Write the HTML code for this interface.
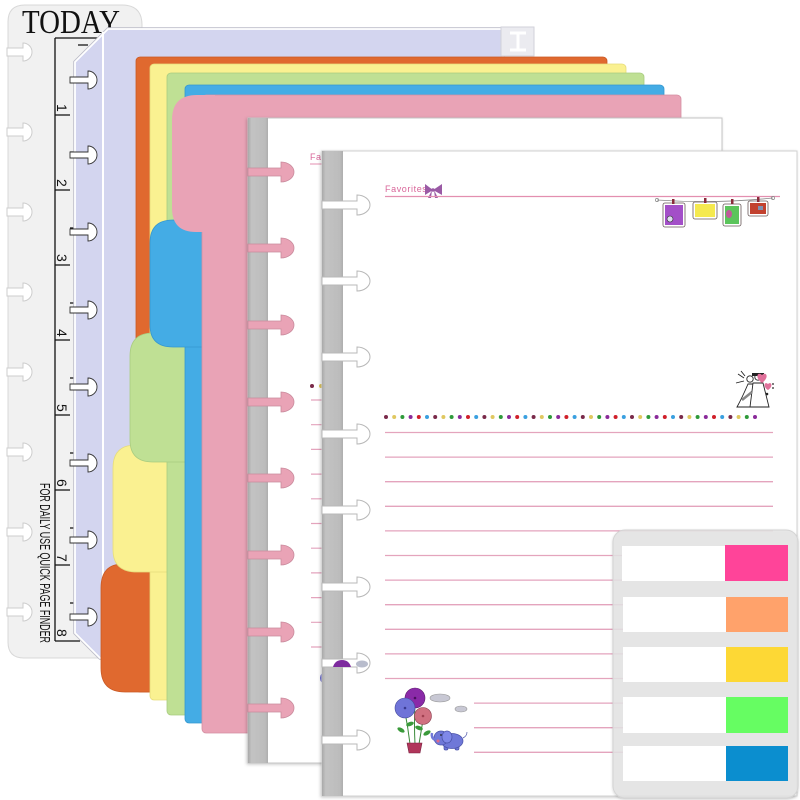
<!DOCTYPE html>
<html><head><meta charset="utf-8">
<style>html,body{margin:0;padding:0;background:#fff;width:800px;height:800px;overflow:hidden}</style>
</head>
<body>
<svg width="800" height="800" viewBox="0 0 800 800" xmlns="http://www.w3.org/2000/svg">
<defs>
<linearGradient id="strip" x1="0" x2="1" y1="0" y2="0">
<stop offset="0" stop-color="#a9a9a9"/><stop offset="0.18" stop-color="#c3c3c3"/><stop offset="0.85" stop-color="#bcbcbc"/><stop offset="1" stop-color="#aeaeae"/>
</linearGradient>
<filter id="sh" x="-5%" y="-5%" width="110%" height="110%"><feDropShadow dx="-1" dy="1" stdDeviation="1.5" flood-color="#000" flood-opacity="0.22"/></filter>
<filter id="sh2" x="-5%" y="-5%" width="110%" height="110%"><feDropShadow dx="0" dy="1" stdDeviation="1.2" flood-color="#000" flood-opacity="0.18"/></filter>
</defs>
<rect width="800" height="800" fill="#fff"/>

<!-- ruler card -->
<path d="M8,22 Q8,5 25,5 L122,5 Q142,5 142,25 L142,658 L24,658 Q8,658 8,642 Z" fill="#f1f1f1" stroke="#d8d8d8" stroke-width="1"/>
<g fill="#fff" stroke="#cdcdcd" stroke-width="1">
<path d="M7,48 H23 V43 A9,9 0 0 1 23,61 V56 H7 Z"/>
<path d="M7,128 H23 V123 A9,9 0 0 1 23,141 V136 H7 Z"/>
<path d="M7,208 H23 V203 A9,9 0 0 1 23,221 V216 H7 Z"/>
<path d="M7,288 H23 V283 A9,9 0 0 1 23,301 V296 H7 Z"/>
<path d="M7,368 H23 V363 A9,9 0 0 1 23,381 V376 H7 Z"/>
<path d="M7,448 H23 V443 A9,9 0 0 1 23,461 V456 H7 Z"/>
<path d="M7,528 H23 V523 A9,9 0 0 1 23,541 V536 H7 Z"/>
<path d="M7,608 H23 V603 A9,9 0 0 1 23,621 V616 H7 Z"/>
</g>
<text x="22" y="33" font-family="Liberation Serif, serif" font-size="34" textLength="98" lengthAdjust="spacingAndGlyphs" fill="#111">TODAY</text>
<g stroke="#111" stroke-width="1.3" fill="none">
<path d="M55,38 H100 M55,38 V641 M55,641 H80"/>
<path d="M55,115 H70 M55,190 H70 M55,265 H70 M55,340 H70 M55,415 H70 M55,490 H70 M55,565 H70"/>
<path d="M70,152 H74 M70,228 H74 M70,303 H74 M70,378 H74 M70,453 H74 M70,528 H74 M70,603 H74 M78,45 H88"/>
</g>
<g font-family="Liberation Sans, sans-serif" font-size="14" fill="#111">
<text transform="translate(57,104) rotate(90)">1</text>
<text transform="translate(57,179) rotate(90)">2</text>
<text transform="translate(57,254) rotate(90)">3</text>
<text transform="translate(57,329) rotate(90)">4</text>
<text transform="translate(57,404) rotate(90)">5</text>
<text transform="translate(57,479) rotate(90)">6</text>
<text transform="translate(57,554) rotate(90)">7</text>
<text transform="translate(57,629) rotate(90)">8</text>
</g>
<text transform="translate(40,483) rotate(90)" font-family="Liberation Sans, sans-serif" font-size="15" textLength="160" lengthAdjust="spacingAndGlyphs" fill="#111">FOR DAILY USE QUICK PAGE FINDER</text>

<!-- lavender cover -->
<path d="M75,62 L108,29 L503,29 L503,665 L100,658 L75,633 Z" fill="none" stroke="#bcbcc8" stroke-width="3.5"/>
<path d="M75,62 L108,29 L503,29 L503,665 L100,658 L75,633 Z" fill="#d3d5ef" stroke="#fff" stroke-width="1.8"/>
<path d="M103,32 V655" stroke="#fff" stroke-width="2"/>
<rect x="501" y="27" width="33" height="29" fill="#ebebf0" stroke="#d2d2da" stroke-width="1"/>
<path d="M510,33 H526 M518,33 V50 M510,50 H526" stroke="#fff" stroke-width="3"/>
<g fill="#fff" stroke="#333" stroke-width="0.9">
<path d="M70,77 H88 V71 A9,9 0 0 1 88,89 V83 H70 Z"/>
<path d="M70,152 H88 V146 A9,9 0 0 1 88,164 V158 H70 Z"/>
<path d="M70,229 H88 V223 A9,9 0 0 1 88,241 V235 H70 Z"/>
<path d="M70,307 H88 V301 A9,9 0 0 1 88,319 V313 H70 Z"/>
<path d="M70,384 H88 V378 A9,9 0 0 1 88,396 V390 H70 Z"/>
<path d="M70,460 H88 V454 A9,9 0 0 1 88,472 V466 H70 Z"/>
<path d="M70,537 H88 V531 A9,9 0 0 1 88,549 V543 H70 Z"/>
<path d="M70,614 H88 V608 A9,9 0 0 1 88,626 V620 H70 Z"/>
</g>

<!-- dividers -->
<g stroke-width="0.8">
<rect x="136" y="57" width="471" height="635" rx="4" fill="#e0692f" stroke="#c95a25"/>
<path d="M150,568 L123,564 Q101,564 101,588 L101,668 Q101,692 125,692 L150,692 Z" fill="#e0692f" stroke="#c95a25"/>

<rect x="150" y="64" width="476" height="636" rx="4" fill="#faf191" stroke="#e6dc7c"/>
<path d="M170,447 L136,445 Q113,445 113,468 L113,550 Q113,572 137,572 L170,572 Z" fill="#faf191" stroke="#e6dc7c"/>

<rect x="167" y="73" width="477" height="642" rx="4" fill="#bfe094" stroke="#a9cc80"/>
<path d="M190,335 L153,333 Q130,333 130,356 L130,440 Q130,462 153,462 L190,462 Z" fill="#bfe094" stroke="#a9cc80"/>

<rect x="185" y="85" width="479" height="638" rx="4" fill="#44ace5" stroke="#3598cf"/>
<path d="M205,222 L173,220 Q150,220 150,243 L150,325 Q150,347 173,347 L205,347 Z" fill="#44ace5" stroke="#3598cf"/>

<rect x="202" y="95" width="479" height="638" rx="4" fill="#e9a3b6" stroke="#d48fa2"/>
<path d="M215,95 L197,95 Q172,95 172,120 L172,208 Q172,232 196,232 L215,232 Z" fill="#e9a3b6"/>
</g>

<!-- sheet 1 -->
<rect x="248" y="118" width="474" height="645" fill="#fff" stroke="#c6c6c6" stroke-width="1" filter="url(#sh)"/>
<rect x="248" y="118" width="20" height="645" fill="url(#strip)"/>
<g fill="#e9a3b6" stroke="#c98a9c" stroke-width="0.8">
<path d="M248,168 H281 V162 A13,10 0 0 1 281,182 V176 H248 Z"/>
<path d="M248,244 H281 V238 A13,10 0 0 1 281,258 V252 H248 Z"/>
<path d="M248,321 H281 V315 A13,10 0 0 1 281,335 V329 H248 Z"/>
<path d="M248,398 H281 V392 A13,10 0 0 1 281,412 V406 H248 Z"/>
<path d="M248,474 H281 V468 A13,10 0 0 1 281,488 V482 H248 Z"/>
<path d="M248,551 H281 V545 A13,10 0 0 1 281,565 V559 H248 Z"/>
<path d="M248,628 H281 V622 A13,10 0 0 1 281,642 V636 H248 Z"/>
<path d="M248,704 H281 V698 A13,10 0 0 1 281,718 V712 H248 Z"/>
</g>
<text x="310" y="160" font-family="Liberation Sans, sans-serif" font-size="9" fill="#d9669a" letter-spacing="0.5">Favorites</text>
<path d="M310,164 H330" stroke="#e38fb0" stroke-width="1"/>
<circle cx="312" cy="386" r="2" fill="#7a2a4a"/><circle cx="321" cy="386" r="2" fill="#e0c860"/>
<g stroke="#e4a4bd" stroke-width="1.2">
<path d="M311,400 H330 M311,424.7 H330 M311,449.4 H330 M311,474.1 H330 M311,498.8 H330 M311,523.5 H330 M311,548.2 H330 M311,572.9 H330 M311,597.6 H330 M311,622.3 H330 M311,647 H330"/>
</g>
<ellipse cx="325" cy="678" rx="5" ry="6" fill="#6a6ad0"/>

<!-- sheet 2 -->
<rect x="322" y="151" width="475" height="645" fill="#fff" stroke="#d2d2d2" stroke-width="1" filter="url(#sh)"/>
<rect x="322" y="151" width="21" height="645" fill="url(#strip)"/>
<g fill="#fff" stroke="#b8b8b8" stroke-width="1">
<path d="M322,201 H357 V195 A13,10 0 0 1 357,215 V209 H322 Z"/>
<path d="M322,277 H357 V271 A13,10 0 0 1 357,291 V285 H322 Z"/>
<path d="M322,353 H357 V347 A13,10 0 0 1 357,367 V361 H322 Z"/>
<path d="M322,430 H357 V424 A13,10 0 0 1 357,444 V438 H322 Z"/>
<path d="M322,506 H357 V500 A13,10 0 0 1 357,520 V514 H322 Z"/>
<path d="M322,583 H357 V577 A13,10 0 0 1 357,597 V591 H322 Z"/>
<path d="M322,659 H357 V653 A13,10 0 0 1 357,673 V667 H322 Z"/>
<path d="M322,736 H357 V730 A13,10 0 0 1 357,750 V744 H322 Z"/>
</g>
<ellipse cx="362" cy="664" rx="6" ry="3.5" fill="#b8bccc"/>
<path d="M333,667 Q335,660 342,660 Q349,660 351,667 Z" fill="#7d2a9e"/>

<!-- sheet 2 content -->
<text x="385" y="192" font-family="Liberation Sans, sans-serif" font-size="9" fill="#d9669a" letter-spacing="0.6">Favorites</text>
<g fill="#9a5aa5"><path d="M433,190 L425,184 L425,195 Z"/><path d="M433,190 L442,184 L442,195 Z"/><path d="M432,190 L428,198 L431,198 Z"/><path d="M434,190 L438,198 L435,198 Z"/><circle cx="433" cy="190" r="1.8"/></g>
<path d="M385,196.5 H780" stroke="#e38fb0" stroke-width="1.3"/>

<!-- hanging frames -->
<path d="M657,200 Q715,204 773,198" stroke="#888" stroke-width="0.8" fill="none"/>
<circle cx="657" cy="200" r="1.6" fill="none" stroke="#888" stroke-width="0.7"/>
<circle cx="773" cy="198" r="1.6" fill="none" stroke="#888" stroke-width="0.7"/>
<g stroke="#6a5a5a" stroke-width="0.8">
<rect x="663" y="203" width="22" height="24" rx="2" fill="#fff"/><rect x="665" y="205" width="18" height="20" fill="#a34fc8" stroke="none"/>
<rect x="693" y="202" width="24" height="17" rx="2" fill="#fff"/><rect x="695" y="204" width="20" height="13" fill="#f5e94f" stroke="none"/>
<rect x="723" y="204" width="18" height="22" rx="2" fill="#fff"/><rect x="725" y="206" width="14" height="18" fill="#5bc45b" stroke="none"/>
<rect x="748" y="201" width="20" height="15" rx="2" fill="#fff"/><rect x="750" y="203" width="16" height="11" fill="#c2412f" stroke="none"/>
</g>
<g fill="#8a2a3a"><rect x="672" y="199" width="2.5" height="5"/><rect x="704" y="198" width="2.5" height="5"/><rect x="731" y="199" width="2.5" height="5"/><rect x="757" y="197" width="2.5" height="5"/></g>
<circle cx="670" cy="219" r="3" fill="#dde" stroke="#333" stroke-width="0.6"/>
<ellipse cx="729" cy="214" rx="3" ry="4" fill="#c05a9a"/>
<rect x="758" y="206" width="5" height="4" fill="#8090b0"/>

<!-- couple doodle -->
<g stroke="#222" stroke-width="0.9" fill="#fff">
<path d="M748,384 Q742,398 737,407 L760,407 Q756,396 753,384 Z"/>
<path d="M753,383 L750,407 L769,407 L763,383 Z"/>
<circle cx="750" cy="379" r="3.2"/>
<circle cx="758" cy="377" r="3.2"/>
<path d="M744,378 L738,374 M744,381 L736,383 M745,376 L741,371" fill="none"/>
</g>
<rect x="752" y="373" width="12" height="3" fill="#222"/>
<path d="M742,400 L752,392" stroke="#888" stroke-width="2.5"/>
<path d="M762,383 C754,377 758,371 762,375 C766,371 770,377 762,383 Z" fill="#e0709a"/>
<path d="M768,390 C762,386 765,381 768,384 C771,381 774,386 768,390 Z" fill="#e0709a"/>
<circle cx="773" cy="384" r="0.9" fill="#222"/><circle cx="773" cy="388" r="0.9" fill="#222"/><circle cx="767" cy="394" r="1.3" fill="#222"/>

<!-- dots row -->
<g>
<circle cx="386" cy="417" r="2" fill="#7a2a4a"/><circle cx="394.2" cy="417" r="2" fill="#e0c860"/><circle cx="402.4" cy="417" r="2" fill="#2e9a3a"/><circle cx="410.6" cy="417" r="2" fill="#8a2a9a"/><circle cx="418.8" cy="417" r="2" fill="#d0202a"/><circle cx="427" cy="417" r="2" fill="#3aa0e0"/>
<circle cx="435.2" cy="417" r="2" fill="#7a2a4a"/><circle cx="443.4" cy="417" r="2" fill="#e0c860"/><circle cx="451.6" cy="417" r="2" fill="#2e9a3a"/><circle cx="459.8" cy="417" r="2" fill="#8a2a9a"/><circle cx="468" cy="417" r="2" fill="#d0202a"/><circle cx="476.2" cy="417" r="2" fill="#3aa0e0"/>
<circle cx="484.4" cy="417" r="2" fill="#7a2a4a"/><circle cx="492.6" cy="417" r="2" fill="#e0c860"/><circle cx="500.8" cy="417" r="2" fill="#2e9a3a"/><circle cx="509" cy="417" r="2" fill="#8a2a9a"/><circle cx="517.2" cy="417" r="2" fill="#d0202a"/><circle cx="525.4" cy="417" r="2" fill="#3aa0e0"/>
<circle cx="533.6" cy="417" r="2" fill="#7a2a4a"/><circle cx="541.8" cy="417" r="2" fill="#e0c860"/><circle cx="550" cy="417" r="2" fill="#2e9a3a"/><circle cx="558.2" cy="417" r="2" fill="#8a2a9a"/><circle cx="566.4" cy="417" r="2" fill="#d0202a"/><circle cx="574.6" cy="417" r="2" fill="#3aa0e0"/>
<circle cx="582.8" cy="417" r="2" fill="#7a2a4a"/><circle cx="591" cy="417" r="2" fill="#e0c860"/><circle cx="599.2" cy="417" r="2" fill="#2e9a3a"/><circle cx="607.4" cy="417" r="2" fill="#8a2a9a"/><circle cx="615.6" cy="417" r="2" fill="#d0202a"/><circle cx="623.8" cy="417" r="2" fill="#3aa0e0"/>
<circle cx="632" cy="417" r="2" fill="#7a2a4a"/><circle cx="640.2" cy="417" r="2" fill="#e0c860"/><circle cx="648.4" cy="417" r="2" fill="#2e9a3a"/><circle cx="656.6" cy="417" r="2" fill="#8a2a9a"/><circle cx="664.8" cy="417" r="2" fill="#d0202a"/><circle cx="673" cy="417" r="2" fill="#3aa0e0"/>
<circle cx="681.2" cy="417" r="2" fill="#7a2a4a"/><circle cx="689.4" cy="417" r="2" fill="#e0c860"/><circle cx="697.6" cy="417" r="2" fill="#2e9a3a"/><circle cx="705.8" cy="417" r="2" fill="#8a2a9a"/><circle cx="714" cy="417" r="2" fill="#d0202a"/><circle cx="722.2" cy="417" r="2" fill="#3aa0e0"/>
<circle cx="730.4" cy="417" r="2" fill="#7a2a4a"/><circle cx="738.6" cy="417" r="2" fill="#e0c860"/><circle cx="746.8" cy="417" r="2" fill="#2e9a3a"/><circle cx="755" cy="417" r="2" fill="#8a2a9a"/>
</g>

<!-- ruled lines -->
<g stroke="#e4a4bd" stroke-width="1.3">
<path d="M385,432.5 H773 M385,457.1 H773 M385,481.7 H773 M385,506.3 H773 M385,530.9 H773 M385,555.5 H773 M385,580.1 H773 M385,604.7 H773 M385,629.3 H773 M385,653.9 H773 M385,678.5 H773"/>
<path d="M474,703.1 H773 M474,727.7 H773 M474,752.3 H773"/>
</g>

<!-- flower doodle -->
<g stroke="#3a8a3a" stroke-width="1" fill="none">
<path d="M405,712 Q408,728 410,744 M415,704 Q414,725 415,744 M423,720 Q421,732 419,744"/>
</g>
<g fill="#3a9a3a">
<ellipse cx="401" cy="730" rx="4" ry="2" transform="rotate(30 401 730)"/>
<ellipse cx="410" cy="724" rx="4" ry="2" transform="rotate(-20 410 724)"/>
<ellipse cx="419" cy="728" rx="4" ry="2" transform="rotate(20 419 728)"/>
<ellipse cx="427" cy="733" rx="4" ry="2" transform="rotate(-30 427 733)"/>
</g>
<circle cx="415" cy="698" r="10" fill="#8a2aa8" stroke="#5a1a6a" stroke-width="0.6"/>
<circle cx="405" cy="708" r="10" fill="#6f74d8" stroke="#444a9a" stroke-width="0.6"/>
<circle cx="423" cy="716" r="8.5" fill="#d07080" stroke="#8a4050" stroke-width="0.6"/>
<circle cx="415" cy="698" r="1.3" fill="#4a1060"/><circle cx="405" cy="708" r="1.3" fill="#3a3a90"/><circle cx="423" cy="716" r="1.3" fill="#a04050"/>
<path d="M407,743 L422,743 L420,753 L409,753 Z" fill="#b0365a" stroke="#7a2040" stroke-width="0.6"/>
<ellipse cx="440" cy="698" rx="10" ry="4" fill="#c8c8d4" stroke="#999" stroke-width="0.6"/>
<ellipse cx="461" cy="709" rx="6" ry="3" fill="#c8c8d4" stroke="#999" stroke-width="0.6"/>
<g fill="#6f78d8" stroke="#4a52a8" stroke-width="0.7">
<rect x="444" y="744" width="4" height="6" rx="1.5"/><rect x="455" y="744" width="4" height="6" rx="1.5"/>
<ellipse cx="452" cy="741" rx="11" ry="7.5"/>
<circle cx="441" cy="738" r="7"/>
<path d="M435,740 Q431,738 432,733" fill="none" stroke-width="2.5" stroke="#6f78d8"/>
<ellipse cx="447" cy="737" rx="5" ry="6" fill="#7f88e8"/>
<path d="M463,738 Q467,736 467,732" fill="none"/>
</g>
<circle cx="438" cy="741" r="1.5" fill="#e06a8a"/><circle cx="441" cy="735" r="0.9" fill="#222"/>

<!-- sticky notes -->
<rect x="613" y="530" width="185" height="268" rx="12" fill="#e4e4e4" fill-opacity="0.85" stroke="#d4d4d4" stroke-width="1" filter="url(#sh2)"/>
<g>
<rect x="622" y="546" width="104" height="35" fill="#fff"/><rect x="725" y="545" width="63" height="36" fill="#ff4499"/>
<rect x="623" y="597" width="104" height="35" fill="#fff"/><rect x="726" y="597" width="62" height="35" fill="#ffa26b"/>
<rect x="623" y="647" width="104" height="35" fill="#fff"/><rect x="726" y="647" width="62" height="35" fill="#fdd835"/>
<rect x="623" y="697" width="104" height="36" fill="#fff"/><rect x="726" y="697" width="62" height="36" fill="#66fd62"/>
<rect x="623" y="746" width="104" height="35" fill="#fff"/><rect x="726" y="746" width="62" height="35" fill="#0b8ecf"/>
</g>
</svg>
</body></html>
